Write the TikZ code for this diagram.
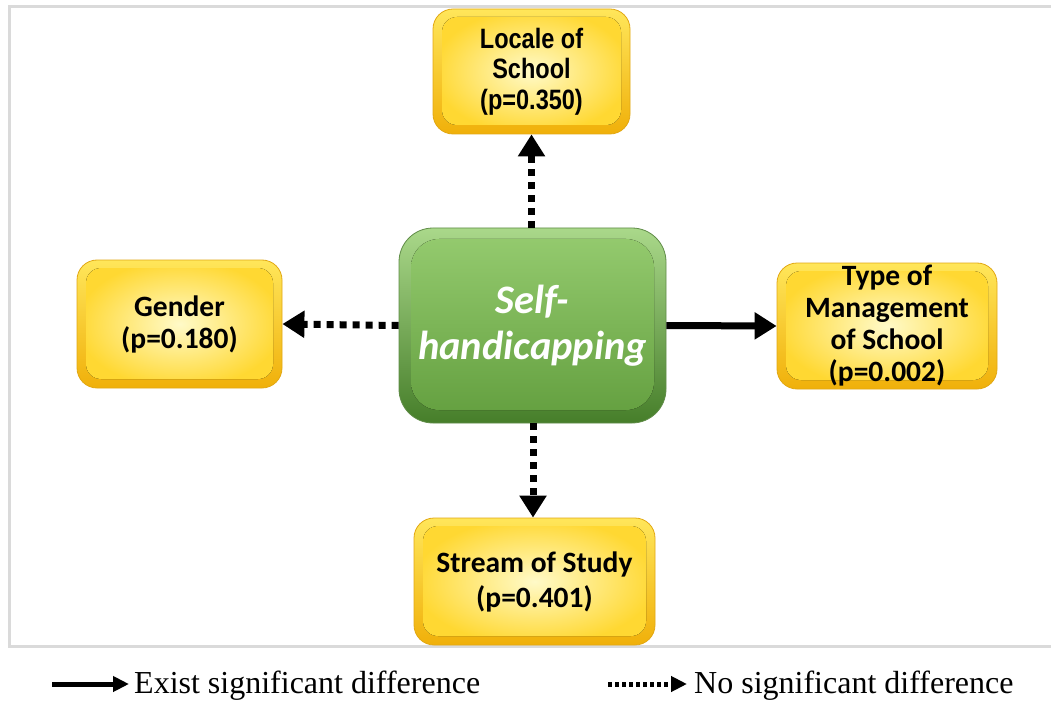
\documentclass[tikz,border=0pt]{standalone}
\usepackage{fontspec}
\setmainfont{Carlito}
\newfontfamily\narrowfont[FakeStretch=0.84]{Liberation Sans}
\newfontfamily\timesfont{Liberation Serif}
\usetikzlibrary{arrows.meta}

\definecolor{ylTop}{RGB}{255,230,90}
\definecolor{ylBot}{RGB}{240,176,10}
\definecolor{ylEdge}{RGB}{226,168,20}
\definecolor{ylIn}{RGB}{255,250,200}
\definecolor{ylOut}{RGB}{255,216,50}
\definecolor{grTop}{RGB}{170,216,138}
\definecolor{grBot}{RGB}{70,126,42}
\definecolor{grEdge}{RGB}{96,140,72}
\definecolor{grInTop}{RGB}{150,204,112}
\definecolor{grInBot}{RGB}{98,158,62}
\definecolor{frame}{RGB}{218,218,218}

\tikzset{
  yellowbox/.style 2 args={
    rounded corners=20pt, minimum width=#1, minimum height=#2,
    top color=ylTop, bottom color=ylBot, draw=ylEdge, line width=0.8pt,
    align=center, inner sep=0pt, text=black,
    font=\bfseries\fontsize{29.5}{32}\selectfont,
    path picture={
      \fill[inner color=ylIn, outer color=ylOut, rounded corners=15pt]
        ([shift={(9pt,-8pt)}]path picture bounding box.north west) rectangle
        ([shift={(-9pt,9pt)}]path picture bounding box.south east);
    }},
  greenbox/.style={
    rounded corners=34pt, minimum width=267pt, minimum height=195pt,
    top color=grTop, bottom color=grBot, draw=grEdge, line width=0.8pt,
    align=center, inner sep=0pt, text=white,
    font=\bfseries\itshape\fontsize{40.5}{46}\selectfont,
    path picture={
      \fill[top color=grInTop, bottom color=grInBot, rounded corners=28pt]
        ([shift={(12pt,-11pt)}]path picture bounding box.north west) rectangle
        ([shift={(-12pt,13pt)}]path picture bounding box.south east);
    }},
  solidlink/.style={line width=7pt, -{Triangle[length=22pt,width=26pt]}},
  dottedlink/.style={line width=7pt, dash pattern=on 7pt off 6pt,
    -{Triangle[length=22pt,width=26pt]}},
  legsolid/.style={line width=5pt, -{Triangle[length=16pt,width=15pt]}},
  legdotted/.style={line width=5pt, dash pattern=on 4pt off 3pt,
    -{Triangle[length=16pt,width=15pt]}},
  legtext/.style={anchor=west, inner sep=0pt,
    font=\timesfont\fontsize{32}{36}\selectfont},
}

\begin{document}
\begin{tikzpicture}[x=1pt, y=-1pt]
  \useasboundingbox (0,0) rectangle (1051,703);
  \fill[white] (0,0) rectangle (1051,703);

  % light grey frame around the diagram panel
  \draw[frame, line width=3pt] (1051,7) -- (9,7) -- (9,646) -- (1051,646);

  % central factor
  \node[greenbox] (self) at (532.5,325.5) {Self-\\handicapping};

  % demographic variables
  \node[yellowbox={197pt}{125pt}, font=\narrowfont\bfseries\fontsize{28}{30.5}\selectfont]
    (locale) at (531.5,71.5) {Locale of\\School\\(p=0.350)};
  \node[yellowbox={205pt}{128pt}] (gender) at (179.5,324) {Gender\\(p=0.180)};
  \node[yellowbox={220pt}{126pt}] (type) at (887,326)
    {Type of\\Management\\of School\\(p=0.002)};
  \node[yellowbox={241pt}{127pt}, font=\bfseries\fontsize{29.5}{35}\selectfont]
    (stream) at (534.5,581.5) {Stream of Study\\(p=0.401)};

  % relations
  \draw[dottedlink] (self.north -| locale.south) -- (locale.south);
  \draw[dottedlink] (self.west) -- (gender.east);
  \draw[solidlink] (self.east) -- (type.west);
  \draw[dottedlink] ([xshift=0.5pt]self.south) -- ([xshift=-1.5pt]stream.north);

  % legend
  \node[legtext] (legsig) at (134,686) {Exist significant difference};
  \node[legtext] (legnone) at (694,686) {No significant difference};
  \coordinate (legsigstart) at (52,684);
  \coordinate (legnonestart) at (608,684);
  \draw[legsolid] (legsigstart) -- ([xshift=-5pt]legsigstart -| legsig.west);
  \draw[legdotted] (legnonestart) -- ([xshift=-7pt]legnonestart -| legnone.west);
\end{tikzpicture}
\end{document}
